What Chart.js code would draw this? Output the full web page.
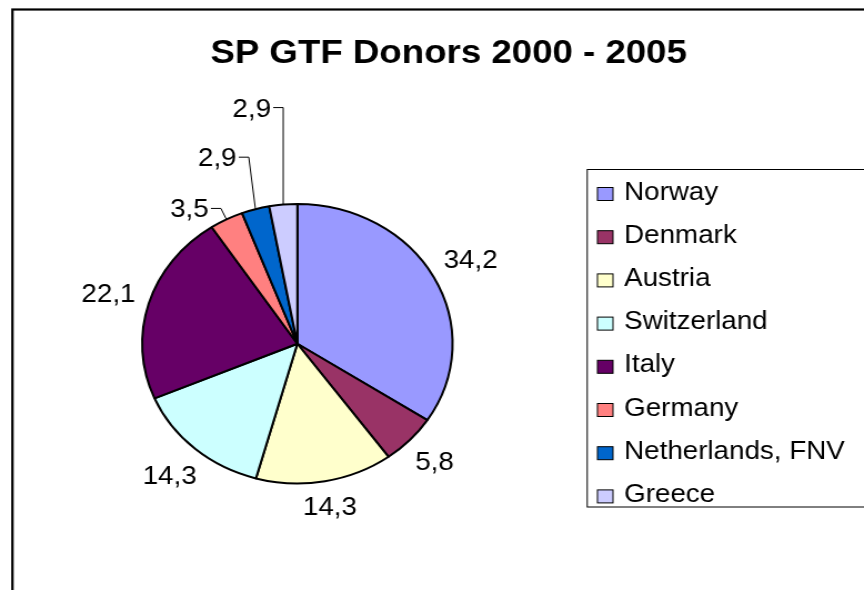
<!DOCTYPE html>
<html>
<head>
<meta charset="utf-8">
<title>SP GTF Donors 2000 - 2005</title>
<script src="https://cdn.jsdelivr.net/npm/chart.js@4/dist/chart.umd.min.js"></script>
<style>
html, body { margin: 0; padding: 0; background: #fff; overflow: hidden; }
#wrap { width: 864px; height: 590px; overflow: hidden; }
/* the original sheet is stretched sideways, so the pie is an oval */
#donors { transform: scaleX(1.1105); transform-origin: 0 0; }
</style>
</head>
<body>
<div id="wrap"><canvas id="donors" width="778" height="590"></canvas></div>
<script>
//Data
var donors = ['Norway', 'Denmark', 'Austria', 'Switzerland', 'Italy', 'Germany', 'Netherlands, FNV', 'Greece'];
var shares = [34.2, 5.8, 14.3, 14.3, 22.1, 3.5, 2.9, 2.9];
var sliceColors = ['#9999FF', '#993366', '#FFFFCC', '#CCFFFF', '#660066', '#FF8080', '#0066CC', '#CCCCFF'];
var chartTitle = 'SP GTF Donors 2000 - 2005';

//Small slices get their label lifted up on a leader line (rise / sideways lean)
var callouts = { 5: { rise: 11, lean: -5 }, 6: { rise: 52, lean: -6 }, 7: { rise: 97, lean: 0 } };

var FONT = '"Liberation Sans", Arial, sans-serif';
var LABEL_SIZE = 25;
var CAP = LABEL_SIZE * 0.716;

function fmt(v) {
	return v.toFixed(1).replace('.', ',');
}

//Frame + title
var framePlugin = {
	id: 'frame',
	beforeDraw: function (chart) {
		var ctx = chart.ctx;
		ctx.save();
		ctx.fillStyle = '#fff';
		ctx.fillRect(0, 0, chart.width, chart.height);
		ctx.strokeStyle = '#000';
		ctx.lineWidth = 2.2;
		ctx.strokeRect(11.2, 9.5, 900, 700);
		ctx.fillStyle = '#000';
		ctx.font = 'bold 33px ' + FONT;
		ctx.textAlign = 'center';
		ctx.textBaseline = 'alphabetic';
		ctx.fillText(chartTitle, 404, 63);
		ctx.restore();
	}
};

//Value labels round the pie
var labelPlugin = {
	id: 'sliceLabels',
	afterDatasetsDraw: function (chart) {
		var ctx = chart.ctx;
		var meta = chart.getDatasetMeta(0);
		ctx.save();
		ctx.font = LABEL_SIZE + 'px ' + FONT;
		ctx.fillStyle = '#000';
		ctx.strokeStyle = '#000';
		ctx.lineWidth = 1;
		ctx.textBaseline = 'alphabetic';
		meta.data.forEach(function (arc, i) {
			var p = arc.getProps(['x', 'y', 'startAngle', 'endAngle', 'outerRadius'], true);
			var mid = (p.startAngle + p.endAngle) / 2;
			var text = fmt(chart.data.datasets[0].data[i]);
			var w = ctx.measureText(text).width;
			var c = callouts[i];
			if (c) {
				var x0 = p.x + Math.cos(mid) * p.outerRadius;
				var y0 = p.y + Math.sin(mid) * p.outerRadius;
				var ex = x0 + c.lean, ey = y0 - c.rise;
				ctx.beginPath();
				ctx.moveTo(x0, y0);
				ctx.lineTo(ex, ey);
				ctx.lineTo(ex - 9, ey);
				ctx.stroke();
				ctx.textAlign = 'right';
				ctx.fillText(text, ex - 11, ey + CAP / 2);
			} else {
				var dist = p.outerRadius + 12 + Math.abs(Math.cos(mid)) * w / 2 + Math.abs(Math.sin(mid)) * CAP / 2;
				var lx = p.x + Math.cos(mid) * dist;
				var ly = p.y + Math.sin(mid) * dist;
				ctx.textAlign = 'center';
				ctx.fillText(text, lx, ly + CAP / 2);
			}
		});
		ctx.restore();
	}
};

//Boxed legend on the right
var legendPlugin = {
	id: 'boxLegend',
	afterDraw: function (chart) {
		var ctx = chart.ctx;
		var ds = chart.data.datasets[0];
		ctx.save();
		ctx.strokeStyle = '#000';
		ctx.lineWidth = 1;
		ctx.strokeRect(528.8, 169.5, 400, 337.5);
		ctx.font = LABEL_SIZE + 'px ' + FONT;
		ctx.textAlign = 'left';
		ctx.textBaseline = 'alphabetic';
		chart.data.labels.forEach(function (name, i) {
			var y = 194 + i * 43.2;
			ctx.fillStyle = ds.backgroundColor[i];
			ctx.fillRect(538, y - 6.5, 14, 13);
			ctx.strokeRect(538, y - 6.5, 14, 13);
			ctx.fillStyle = '#000';
			ctx.fillText(name, 562, y + 5.5);
		});
		ctx.restore();
	}
};

var chart = new Chart(document.getElementById('donors'), {
	type: 'pie',
	data: {
		labels: donors,
		datasets: [{
			data: shares,
			backgroundColor: sliceColors,
			borderColor: '#000',
			borderWidth: 2
		}]
	},
	options: {
		responsive: false,
		animation: false,
		events: [],
		layout: {
			padding: { left: 127, top: 203, right: 369.5, bottom: 105.5 }
		},
		plugins: {
			legend: { display: false },
			title: { display: false },
			tooltip: { enabled: false }
		}
	},
	plugins: [framePlugin, labelPlugin, legendPlugin]
});
</script>
</body>
</html>
